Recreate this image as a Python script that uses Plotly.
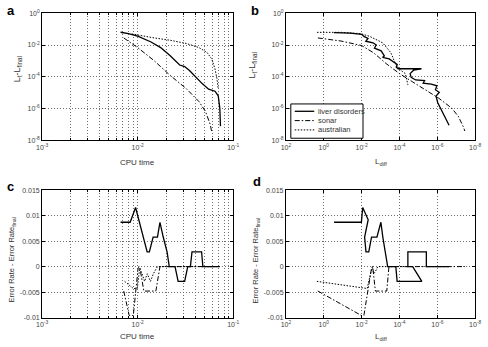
import plotly.graph_objects as go

# ---------------- data ----------------
# Panel a: CPU time vs L_t - L_final
a_liver_cpu = [6.62e-3, 8.0e-3, 1.0e-2, 1.38e-2, 1.74e-2, 2.19e-2, 2.75e-2, 3.1e-2, 3.48e-2, 4.06e-2, 4.73e-2, 5.52e-2, 6.44e-2, 6.96e-2, 7.23e-2, 7.35e-2]
a_liver_L = [6.4e-2, 5.2e-2, 3.6e-2, 1.55e-2, 6.9e-3, 2.1e-3, 5.5e-4, 4.4e-4, 2.5e-4, 9.5e-5, 3.7e-5, 1.66e-5, 1.23e-5, 6.3e-6, 1.05e-6, 7.7e-8]
a_sonar_cpu = [7.15e-3, 1.0e-2, 1.49e-2, 2.19e-2, 3.22e-2, 4.38e-2, 5.12e-2, 5.74e-2, 5.97e-2]
a_sonar_L = [2.8e-2, 6.9e-3, 1.02e-3, 1.2e-4, 1.8e-5, 2.7e-6, 6.5e-7, 9.8e-8, 3.0e-8]
a_aus_cpu = [8.7e-3, 1.0e-2, 1.49e-2, 2.19e-2, 3.22e-2, 4.38e-2, 5.31e-2, 5.97e-2, 6.44e-2, 6.75e-2, 6.96e-2]
a_aus_L = [5.0e-2, 4.2e-2, 2.8e-2, 2.0e-2, 1.26e-2, 6.9e-3, 3.4e-3, 1.3e-3, 3.1e-4, 7.6e-5, 1.66e-5]

# Panel b: L_diff vs L_t - L_final
b_liver_Ld = [2.9e-1, 4.0e-2, 1.0e-2, 7.6e-3, 4.6e-3, 6.0e-3, 2.5e-3, 1.7e-3, 2.1e-3, 9.3e-4, 6.3e-4, 7.8e-4, 3.5e-4, 2.4e-4, 1.32e-4, 1.48e-4, 1.17e-4, 6.9e-6, 1.8e-5, 2.75e-5, 2.4e-5, 1.41e-5, 4.7e-6, 5.6e-6, 2.1e-6, 1.05e-6, 1.26e-6, 7.9e-7, 1.17e-6, 9.5e-7, 6.5e-7, 4.1e-7, 2.4e-7]
b_liver_L = [6.0e-2, 5.6e-2, 4.7e-2, 3.5e-2, 2.6e-2, 1.74e-2, 1.38e-2, 1.0e-2, 6.3e-3, 4.3e-3, 2.1e-3, 1.66e-3, 1.32e-3, 9.5e-4, 6.0e-4, 4.1e-4, 3.2e-4, 3.2e-4, 2.6e-4, 1.58e-4, 9.1e-5, 6.3e-5, 5.8e-5, 3.9e-5, 3.4e-5, 2.7e-5, 1.5e-5, 1.05e-5, 6.0e-6, 2.3e-6, 9.1e-7, 2.8e-7, 8.7e-8]
b_sonar_Ld = [2.07, 6.3e-1, 1.2e-1, 1.0e-2, 2.3e-3, 4.7e-4, 9.8e-5, 2.0e-5, 4.1e-6, 8.3e-7, 1.74e-7, 7.8e-8, 4.4e-8, 3.5e-8]
b_sonar_L = [2.8e-2, 2.4e-2, 1.78e-2, 9.3e-3, 3.2e-3, 6.3e-4, 1.55e-4, 4.7e-5, 1.4e-5, 4.4e-6, 1.05e-6, 3.2e-7, 7.8e-8, 3.8e-8]
b_aus_Ld = [2.3, 1.2e-1, 1.12e-2, 3.7e-3, 7.8e-4, 2.9e-4, 1.62e-4, 8.9e-5, 4.9e-5, 3.6e-5]
b_aus_L = [6.3e-2, 6.3e-2, 5.2e-2, 3.5e-2, 1.38e-2, 3.4e-3, 6.6e-4, 2.6e-4, 1.58e-4, 3.1e-5]

# Panel c: CPU time vs Error Rate - Error Rate_final
c_liver_cpu = [6.62e-3, 8.34e-3, 9.51e-3, 1.256e-2, 1.325e-2, 1.45e-2, 1.61e-2, 1.71e-2, 1.85e-2, 2.03e-2, 2.14e-2, 2.46e-2, 2.65e-2, 3.10e-2, 3.34e-2, 3.56e-2, 3.70e-2, 4.66e-2, 4.81e-2, 7.23e-2]
c_liver_err = [0.0087, 0.0087, 0.0116, 0.0029, 0.0029, 0.0058, 0.0058, 0.0087, 0.0058, 0.0029, 0.0, 0.0, -0.0029, -0.0029, 0.0, 0.0, 0.0029, 0.0029, 0.0, 0.0]
c_sonar_cpu = [7.15e-3, 8.15e-3, 9.0e-3, 1.01e-2, 1.05e-2, 1.16e-2, 1.55e-2, 1.71e-2, 5.97e-2]
c_sonar_err = [-0.0048, -0.0096, -0.0096, -0.0003, 0.0, -0.0048, -0.0048, 0.0, 0.0]
c_aus_cpu = [7.3e-3, 9.0e-3, 9.9e-3, 1.05e-2, 1.11e-2, 1.18e-2, 1.26e-2, 1.36e-2, 1.46e-2, 1.61e-2, 6.96e-2]
c_aus_err = [-0.0029, -0.0043, -0.0043, -0.0003, -0.0014, -0.0029, -0.0014, -0.0029, -0.0014, 0.0, 0.0]

# Panel d: L_diff vs Error Rate - Error Rate_final
d_liver_Ld = [2.86e-1, 1.03e-2, 8.8e-3, 4.5e-3, 6.95e-3, 5.9e-3, 4.2e-3, 3.0e-3, 1.55e-3, 9.6e-4, 7.6e-4, 4.2e-4, 1.56e-4, 1.33e-4, 6.6e-6, 2.0e-5, 3.6e-5, 3.6e-5, 3.8e-6, 3.8e-6, 2.4e-7]
d_liver_err = [0.0087, 0.0087, 0.0116, 0.0092, 0.0058, 0.0029, 0.0029, 0.0058, 0.0058, 0.0087, 0.0058, 0.0, 0.0, -0.0029, -0.0029, 0.0, 0.0, 0.0029, 0.0029, 0.0, 0.0]
d_sonar_Ld = [2.07, 1.03e-2, 7.6e-3, 3.0e-3, 2.6e-3, 1.88e-3, 4.7e-4, 3.6e-4, 3.5e-8]
d_sonar_err = [-0.0048, -0.0096, -0.0096, -0.0003, 0.0, -0.0048, -0.0048, 0.0, 0.0]
d_aus_Ld = [2.33, 5.1e-3, 3.4e-3, 2.7e-3, 2.3e-3, 1.9e-3, 1.4e-3, 3.6e-5]
d_aus_err = [-0.0029, -0.0043, -0.0014, 0.0, -0.0014, -0.0010, 0.0, 0.0]

series_names = ["liver disorders", "sonar", "australian"]

log_cpu_ticks = [1e-3, 1e-2, 1e-1]
log_cpu_text = ["10<sup>-3</sup>", "10<sup>-2</sup>", "10<sup>-1</sup>"]
log_L_ticks = [1e-8, 1e-6, 1e-4, 1e-2, 1e0]
log_L_text = ["10<sup>-8</sup>", "10<sup>-6</sup>", "10<sup>-4</sup>", "10<sup>-2</sup>", "10<sup>0</sup>"]
log_Ld_ticks = [1e2, 1e0, 1e-2, 1e-4, 1e-6, 1e-8]
log_Ld_text = ["10<sup>2</sup>", "10<sup>0</sup>", "10<sup>-2</sup>", "10<sup>-4</sup>", "10<sup>-6</sup>", "10<sup>-8</sup>"]
err_ticks = [-0.01, -0.005, 0, 0.005, 0.01, 0.015]
err_text = ["-0.01", "-0.005", "0", "0.005", "0.01", "0.015"]

# ---------------- styling ----------------
W, H = 488, 347
FONT = "Liberation Sans, Arial, sans-serif"
DASHES = ["solid", "5px,2px,1.5px,2px", "1.5px,1.5px"]
WIDTHS = [1.3, 1.0, 1.0]
GRID_DASH = "1px,2px"
GRID_COLOR = "#6e6e6e"

fig = go.Figure()

panels = [
    ("x", "y", [(a_liver_cpu, a_liver_L), (a_sonar_cpu, a_sonar_L), (a_aus_cpu, a_aus_L)]),
    ("x2", "y2", [(b_liver_Ld, b_liver_L), (b_sonar_Ld, b_sonar_L), (b_aus_Ld, b_aus_L)]),
    ("x3", "y3", [(c_liver_cpu, c_liver_err), (c_sonar_cpu, c_sonar_err), (c_aus_cpu, c_aus_err)]),
    ("x4", "y4", [(d_liver_Ld, d_liver_err), (d_sonar_Ld, d_sonar_err), (d_aus_Ld, d_aus_err)]),
]
for xa, ya, series in panels:
    for (xs, ys), name, dash, lw in zip(series, series_names, DASHES, WIDTHS):
        fig.add_trace(go.Scatter(x=xs, y=ys, mode="lines", name=name, xaxis=xa, yaxis=ya,
                                 line=dict(color="black", dash=dash, width=lw),
                                 showlegend=False, hoverinfo="skip"))

def px_x(p):
    return p / W

def px_y(p):
    return 1 - p / H

dom_x_left = [px_x(37), px_x(233)]
dom_x_right = [px_x(287), px_x(481)]
dom_y_top = [px_y(139), px_y(9.5)]
dom_y_bot = [px_y(320), px_y(190)]

axis_common = dict(showline=True, linecolor="black", linewidth=1, mirror="ticks",
                   ticks="inside", ticklen=3, tickcolor="black", zeroline=False,
                   showgrid=True, gridcolor=GRID_COLOR, griddash=GRID_DASH, gridwidth=1,
                   tickfont=dict(family=FONT, size=7, color="#444"))

minor_cpu = [m * 10.0 ** e for e in (-3, -2) for m in range(2, 10)]
minor_spec = dict(tickvals=minor_cpu, showgrid=True, gridcolor=GRID_COLOR, griddash=GRID_DASH,
                  gridwidth=1, ticks="inside", ticklen=2, tickcolor="black")

fig.update_layout(
    width=W, height=H, margin=dict(l=0, r=0, t=0, b=0),
    paper_bgcolor="white", plot_bgcolor="white",
    font=dict(family=FONT, size=8, color="#333"),
    showlegend=False,
    xaxis=dict(domain=dom_x_left, anchor="y", type="log", range=[-3, -1],
               tickvals=log_cpu_ticks, ticktext=log_cpu_text, minor=minor_spec, **axis_common),
    yaxis=dict(domain=dom_y_top, anchor="x", type="log", range=[-8, 0],
               tickvals=log_L_ticks, ticktext=log_L_text, **axis_common),
    xaxis2=dict(domain=dom_x_right, anchor="y2", type="log", range=[2, -8],
                tickvals=log_Ld_ticks, ticktext=log_Ld_text, **axis_common),
    yaxis2=dict(domain=dom_y_top, anchor="x2", type="log", range=[-8, 0],
                tickvals=log_L_ticks, ticktext=log_L_text, **axis_common),
    xaxis3=dict(domain=dom_x_left, anchor="y3", type="log", range=[-3, -1],
                tickvals=log_cpu_ticks, ticktext=log_cpu_text, minor=minor_spec, **axis_common),
    yaxis3=dict(domain=dom_y_bot, anchor="x3", range=[-0.01, 0.015],
                tickvals=err_ticks, ticktext=err_text, **axis_common),
    xaxis4=dict(domain=dom_x_right, anchor="y4", type="log", range=[2, -8],
                tickvals=log_Ld_ticks, ticktext=log_Ld_text, **axis_common),
    yaxis4=dict(domain=dom_y_bot, anchor="x4", range=[-0.01, 0.015],
                tickvals=err_ticks, ticktext=err_text, **axis_common),
)

# ---- legend box in panel b (drawn manually for compact MATLAB look) ----
shapes = [dict(type="rect", xref="paper", yref="paper", x0=px_x(292), x1=px_x(366),
               y0=px_y(137), y1=px_y(102), line=dict(color="black", width=1), fillcolor="white",
               layer="above")]
ann = []
for i, (name, dash, lw) in enumerate(zip(series_names, DASHES, WIDTHS)):
    yy = 109.5 + i * 9.5
    shapes.append(dict(type="line", xref="paper", yref="paper", x0=px_x(296), x1=px_x(316),
                       y0=px_y(yy), y1=px_y(yy), line=dict(color="black", width=lw, dash=dash),
                       layer="above"))
    ann.append(dict(text=name, x=px_x(318), y=px_y(yy), xref="paper", yref="paper",
                    xanchor="left", yanchor="middle", showarrow=False,
                    font=dict(family=FONT, size=7.5, color="#333")))

for txt, x, y in [("a", 5, 7), ("b", 255, 7), ("c", 5, 186), ("d", 257.5, 181.5)]:
    ann.append(dict(text="<b>%s</b>" % txt, x=px_x(x), y=px_y(y), xref="paper", yref="paper",
                    xanchor="center", yanchor="middle",
                    showarrow=False, font=dict(family=FONT, size=13, color="black")))
for txt, x, y, ang, fs in [
    ("CPU time", 135, 162, 0, 8), ("L<sub>diff</sub>", 384, 161, 0, 8),
    ("CPU time", 135, 339, 0, 8), ("L<sub>diff</sub>", 384, 340, 0, 8),
    ("L<sub>t</sub>-L<sub>final</sub>", 12, 67, -90, 9), ("L<sub>t</sub>-L<sub>final</sub>", 253, 63, -90, 9),
    ("Error Rate - Error Rate<sub>final</sub>", 6, 261, -90, 7.5), ("Error Rate - Error Rate<sub>final</sub>", 256, 262, -90, 7.5),
]:
    ann.append(dict(text=txt, x=px_x(x), y=px_y(y), xref="paper", yref="paper", showarrow=False,
                    xanchor="center", yanchor="middle",
                    textangle=ang, font=dict(family=FONT, size=fs, color="#333")))
fig.update_layout(annotations=ann, shapes=shapes)

fig.write_html("out.html")
